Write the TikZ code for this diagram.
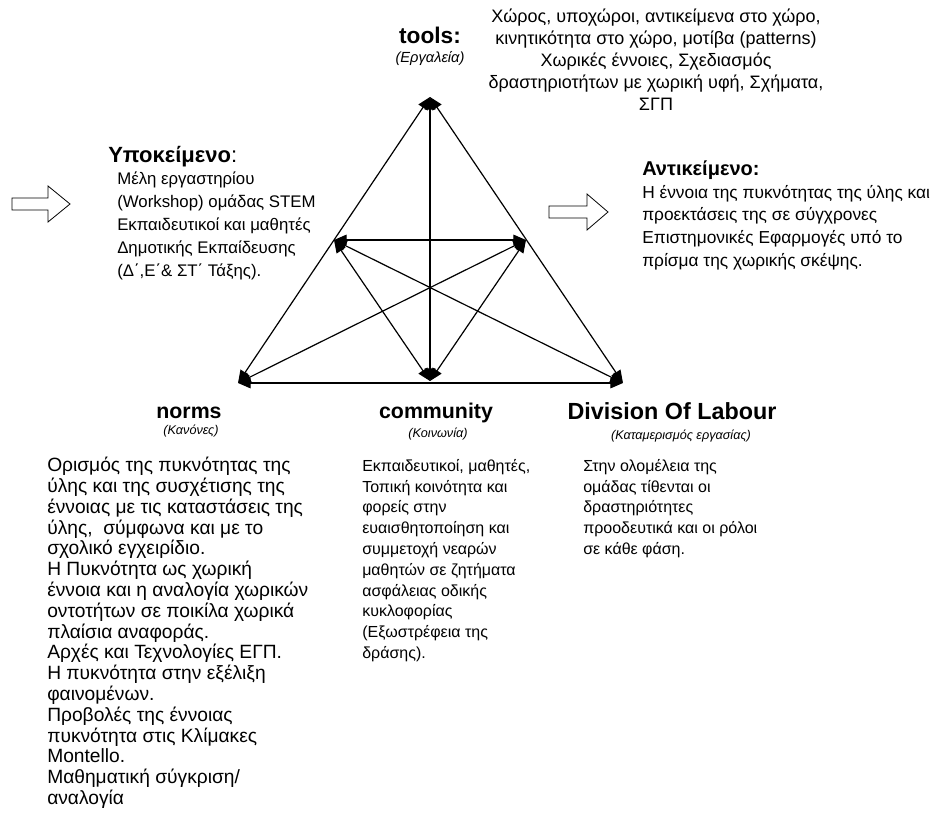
\documentclass[tikz,border=0pt]{standalone}
\usepackage{fontspec}
\setmainfont{Liberation Sans}
\usetikzlibrary{arrows.meta}
\begin{document}
\begin{tikzpicture}[x=0.75pt,y=-0.75pt,
  edge/.style={line width=0.9pt,
    {Triangle[length=9.5pt,width=8pt]}-{Triangle[length=9.5pt,width=8pt]}},
  hollow/.style={draw,line width=0.6pt,fill=white},
  title/.style={anchor=base,inner sep=0pt,font=\bfseries\fontsize{16}{19}\selectfont},
  subtitle/.style={anchor=base,inner sep=0pt,font=\itshape\fontsize{9.5}{11}\selectfont},
  textblock/.style={anchor=north west,align=left,inner sep=0pt,
    font=\fontsize{12}{15.6}\selectfont}]
\useasboundingbox (0,0) rectangle (939,813);

% corners and side midpoints of the triangle
\coordinate (T)  at (430,97);
\coordinate (BL) at (238,383);
\coordinate (BR) at (623,383);
\coordinate (BM) at (430,381);
\coordinate (LM) at (334,240);
\coordinate (RM) at (526,240);

% sides
\draw[edge] (T) -- (BL);
\draw[edge] (T) -- (BR);
\draw[edge] (BL) -- (BR);
% inner links
\draw[edge] (T) -- (BM);
\draw[edge] (LM) -- (RM);
\draw[edge] (LM) -- (BR);
\draw[edge] (RM) -- (BL);
\draw[edge] (LM) -- (BM);
\draw[edge] (RM) -- (BM);

% hollow block arrows
\draw[hollow] (12,198) -- (48,198) -- (48,186) -- (70,204) -- (48,222)
  -- (48,210) -- (12,210) -- cycle;
\draw[hollow] (549,206) -- (587,206) -- (587,194) -- (608,212) -- (587,230)
  -- (587,218) -- (549,218) -- cycle;

% tools
\node[title,font=\bfseries\fontsize{17}{20}\selectfont] (tools) at (430,44) {tools:};
\node[subtitle,font=\itshape\fontsize{11}{13}\selectfont] (toolsgr) at (430,63) {(Εργαλεία)};
\node[anchor=north,align=center,inner sep=0pt,font=\fontsize{13.5}{16.5}\selectfont]
  (toolstext) at (656,9)
  {Χώρος, υποχώροι, αντικείμενα στο χώρο,\\
   κινητικότητα στο χώρο, μοτίβα (patterns)\\
   Χωρικές έννοιες, Σχεδιασμός\\
   δραστηριοτήτων με χωρική υφή, Σχήματα,\\
   ΣΓΠ};

% subject
\node[anchor=base west,inner sep=0pt,font=\fontsize{16.5}{19}\selectfont]
  (subj) at (108,163) {\textbf{Υποκείμενο}:};
\node[textblock,font=\fontsize{12.6}{17.25}\selectfont] (subjtext) at (117,172)
  {Μέλη εργαστηρίου\\
   (Workshop) ομάδας STEM\\
   Εκπαιδευτικοί και μαθητές\\
   Δημοτικής Εκπαίδευσης\\
   (Δ΄,Ε΄\& ΣΤ΄ Τάξης).};

% object
\node[anchor=base west,inner sep=0pt,font=\bfseries\fontsize{15}{18}\selectfont]
  (obj) at (642,176) {Αντικείμενο:};
\node[textblock,font=\fontsize{13}{17}\selectfont] (objtext) at (642,185)
  {Η έννοια της πυκνότητας της ύλης και\\
   προεκτάσεις της σε σύγχρονες\\
   Επιστημονικές Εφαρμογές υπό το\\
   πρίσμα της χωρικής σκέψης.};

% bottom labels
\node[title] (norms) at (189,418) {norms};
\node[subtitle] (normsgr) at (191,434) {(Κανόνες)};
\node[title] (comm) at (436,418) {community};
\node[subtitle] (commgr) at (438,437) {(Κοινωνία)};
\node[title,font=\bfseries\fontsize{17.5}{20}\selectfont] (dol) at (672,419) {Division Of Labour};
\node[subtitle] (dolgr) at (681,439) {(Καταμερισμός εργασίας)};

% bottom descriptions
\node[textblock,font=\fontsize{14.4}{15.6}\selectfont] (normstext) at (47,457)
  {Ορισμός της πυκνότητας της\\
   ύλης και της συσχέτισης της\\
   έννοιας με τις καταστάσεις της\\
   ύλης,\ \ σύμφωνα και με το\\
   σχολικό εγχειρίδιο.\\
   Η Πυκνότητα ως χωρική\\
   έννοια και η αναλογία χωρικών\\
   οντοτήτων σε ποικίλα χωρικά\\
   πλαίσια αναφοράς.\\
   Αρχές και Τεχνολογίες ΕΓΠ.\\
   Η πυκνότητα στην εξέλιξη\\
   φαινομένων.\\
   Προβολές της έννοιας\\
   πυκνότητα στις Κλίμακες\\
   Montello.\\
   Μαθηματική σύγκριση/\\
   αναλογία};
\node[textblock] (commtext) at (362,459)
  {Εκπαιδευτικοί, μαθητές,\\
   Τοπική κοινότητα και\\
   φορείς στην\\
   ευαισθητοποίηση και\\
   συμμετοχή νεαρών\\
   μαθητών σε ζητήματα\\
   ασφάλειας οδικής\\
   κυκλοφορίας\\
   (Εξωστρέφεια της\\
   δράσης).};
\node[textblock] (doltext) at (583,459)
  {Στην ολομέλεια της\\
   ομάδας τίθενται οι\\
   δραστηριότητες\\
   προοδευτικά και οι ρόλοι\\
   σε κάθε φάση.};
\end{tikzpicture}
\end{document}
